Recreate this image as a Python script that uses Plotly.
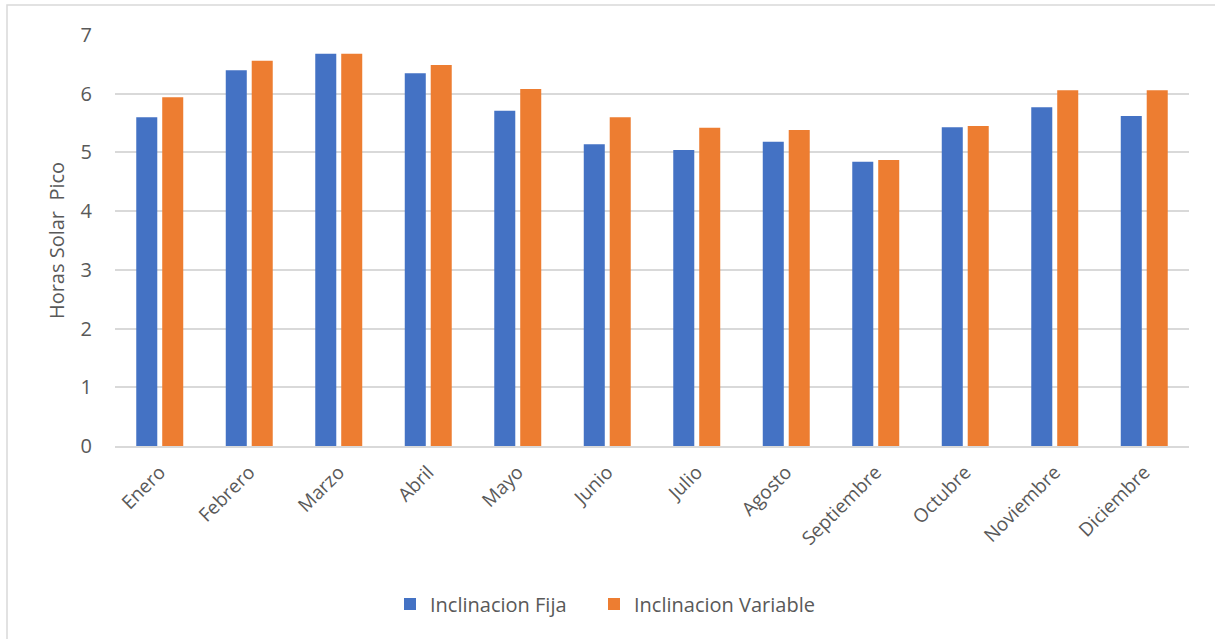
import plotly.graph_objects as go

meses = ["Enero", "Febrero", "Marzo", "Abril", "Mayo", "Junio",
         "Julio", "Agosto", "Septiembre", "Octubre", "Noviembre", "Diciembre"]
inclinacion_fija = [5.60, 6.40, 6.68, 6.35, 5.71, 5.14, 5.04, 5.18, 4.84, 5.43, 5.77, 5.62]
inclinacion_variable = [5.94, 6.56, 6.68, 6.49, 6.08, 5.60, 5.42, 5.38, 4.87, 5.45, 6.06, 6.06]
y_ticks = [0, 1, 2, 3, 4, 5, 6, 7]

W, H = 1215, 639
L, R, T, B = 115, 26, 35, 193
pw, ph = W - L - R, H - T - B

def px_x(x):
    return (x - L) / pw

def px_y(y):
    return (H - B - y) / ph

font_family = "Open Sans, Noto Sans, Liberation Sans, sans-serif"
grey = "#595959"

fig = go.Figure()
fig.add_trace(go.Bar(name="Inclinacion Fija", x=meses, y=inclinacion_fija,
                     marker_color="#4472C4", marker_line_width=0,
                     legend="legend"))
fig.add_trace(go.Bar(name="Inclinacion Variable", x=meses, y=inclinacion_variable,
                     marker_color="#ED7D31", marker_line_width=0,
                     legend="legend2"))

legend_style = dict(orientation="h", yanchor="middle", xanchor="left",
                    y=px_y(604), font=dict(size=20, color=grey),
                    itemwidth=30, bgcolor="rgba(0,0,0,0)")

fig.update_layout(
    width=W, height=H,
    margin=dict(l=L, r=R, t=T, b=B, autoexpand=False),
    paper_bgcolor="white", plot_bgcolor="white",
    barmode="group", bargap=0.42, bargroupgap=0.19,
    font=dict(family=font_family, color=grey, size=19),
    showlegend=True,
    legend=dict(legend_style, x=px_x(390)),
    legend2=dict(legend_style, x=px_x(594)),
    xaxis=dict(tickangle=-45, showgrid=False, showline=True,
               linecolor="#d9d9d9", linewidth=1.5, ticks="",
               ticklabelstandoff=6,
               tickfont=dict(size=19, color=grey)),
    yaxis=dict(range=[0, 7], tickvals=y_ticks, showgrid=True,
               gridcolor="#d9d9d9", gridwidth=1.5, zeroline=False,
               showline=False, ticks="", ticklen=0, ticklabelstandoff=22,
               tickfont=dict(size=20, color=grey),
               title=dict(text="Horas Solar&nbsp; Pico", standoff=10,
                          font=dict(size=20, color=grey))),
    shapes=[dict(type="rect", xref="paper", yref="paper",
                 x0=px_x(7), x1=px_x(1240), y0=px_y(660), y1=px_y(5),
                 line=dict(color="#d9d9d9", width=1.5), layer="below")],
)

fig.write_html("out.html")
